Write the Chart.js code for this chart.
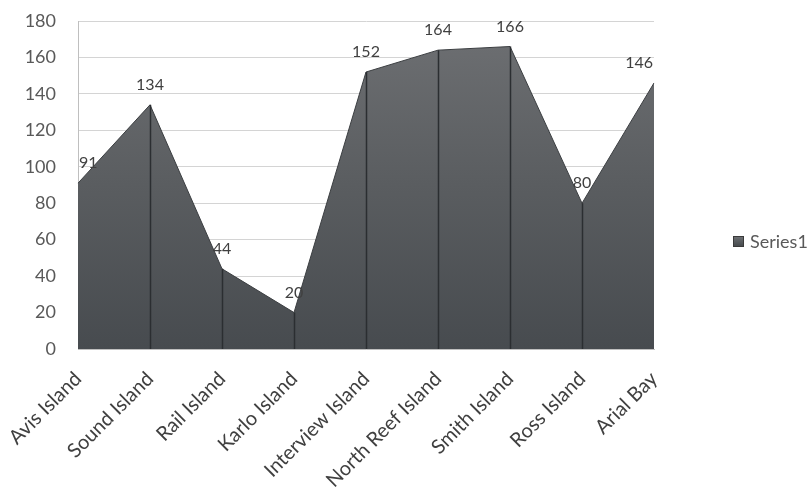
<!DOCTYPE html>
<html>
<head>
<meta charset="utf-8">
<script src="https://cdn.jsdelivr.net/npm/chart.js@4/dist/chart.umd.min.js"></script>
<style>
  html, body { margin: 0; padding: 0; background: #ffffff; }
  #wrap { position: relative; width: 812px; height: 492px; }
</style>
</head>
<body>
<div id="wrap"><canvas id="c" width="812" height="492"></canvas></div>
<script>
const categories = ["Avis Island", "Sound Island", "Rail Island", "Karlo Island", "Interview Island",
                    "North Reef Island", "Smith Island", "Ross Island", "Arial Bay"];
const series1 = [91, 134, 44, 20, 152, 164, 166, 80, 146];
const seriesName = "Series1";
const yMin = 0, yMax = 180, yStep = 20;

const FONT = "Lato, 'Open Sans', sans-serif";

// Vertical drop lines from each point to the baseline, plus value labels above points
const dropLines = {
  id: "dropLines",
  afterDatasetsDraw(chart) {
    const { ctx, chartArea, scales } = chart;
    const meta = chart.getDatasetMeta(0);
    const base = scales.y.getPixelForValue(yMin);
    ctx.save();
    ctx.strokeStyle = "#2b2e31";
    ctx.lineWidth = 1.5;
    meta.data.forEach((pt, i) => {
      if (i === 0 || i === meta.data.length - 1) return;
      ctx.beginPath();
      ctx.moveTo(Math.round(pt.x) + 0.5, pt.y);
      ctx.lineTo(Math.round(pt.x) + 0.5, base);
      ctx.stroke();
    });
    ctx.font = "16px " + FONT;
    ctx.fillStyle = "#404040";
    ctx.textAlign = "center";
    ctx.textBaseline = "middle";
    meta.data.forEach((pt, i) => {
      const txt = String(series1[i]);
      const w = ctx.measureText(txt).width;
      let x = pt.x;
      x = Math.max(chartArea.left + w / 2 + 1, Math.min(chartArea.right - w / 2 - 1, x));
      ctx.fillText(txt, x, pt.y - 20);
    });
    ctx.restore();
  },
  afterDraw(chart) {
    // legend on the right
    const { ctx } = chart;
    ctx.save();
    const grad = ctx.createLinearGradient(0, 236, 0, 248);
    grad.addColorStop(0, "#6f7275");
    grad.addColorStop(1, "#3f4346");
    ctx.fillStyle = grad;
    ctx.fillRect(733, 236, 11, 11);
    ctx.strokeStyle = "#3a3a3a";
    ctx.lineWidth = 1;
    ctx.strokeRect(733.5, 236.5, 10, 10);
    ctx.font = "18px " + FONT;
    ctx.fillStyle = "#595959";
    ctx.textAlign = "left";
    ctx.textBaseline = "middle";
    ctx.fillText(seriesName, 750, 242);
    ctx.restore();
  }
};

const ctx = document.getElementById("c").getContext("2d");
new Chart(ctx, {
  type: "line",
  data: {
    labels: categories,
    datasets: [{
      label: seriesName,
      data: series1,
      fill: "origin",
      tension: 0,
      borderColor: "#3c3f42",
      borderWidth: 1,
      pointRadius: 0,
      backgroundColor(context) {
        const area = context.chart.chartArea;
        if (!area) return "#5a5d60";
        const g = context.chart.ctx.createLinearGradient(0, area.top, 0, area.bottom);
        g.addColorStop(0, "#6e7073");
        g.addColorStop(0.5, "#5a5d60");
        g.addColorStop(1, "#474b4f");
        return g;
      }
    }]
  },
  options: {
    responsive: false,
    animation: false,
    devicePixelRatio: 1,
    layout: { padding: { left: 0, right: 158, top: 21, bottom: 0 } },
    plugins: {
      legend: { display: false },
      tooltip: { enabled: false }
    },
    scales: {
      x: {
        offset: false,
        grid: { display: false, drawTicks: false },
        border: { display: true, color: "#bfbfbf", width: 1 },
        ticks: {
          minRotation: 45,
          maxRotation: 45,
          padding: 18,
          labelOffset: 0,
          color: "#404040",
          font: { family: FONT, size: 20 }
        },
        afterFit(scale) {
          scale.height = 492 - 349;
          scale.paddingLeft = 0;
          scale.paddingRight = 0;
        }
      },
      y: {
        min: yMin,
        max: yMax,
        grid: { color: "#d4d4d4", lineWidth: 1, drawTicks: false },
        border: { display: true, color: "#bfbfbf", width: 1 },
        ticks: {
          stepSize: yStep,
          padding: 22,
          color: "#595959",
          font: { family: FONT, size: 18 }
        },
        afterFit(scale) {
          scale.width = 78;
          scale.paddingTop = 0;
          scale.paddingBottom = 0;
        }
      }
    }
  },
  plugins: [dropLines]
});
</script>
</body>
</html>
